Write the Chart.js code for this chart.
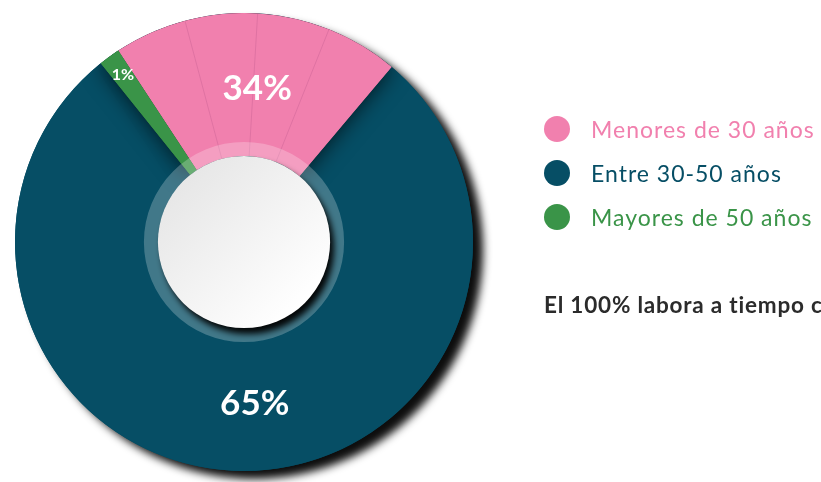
<!DOCTYPE html>
<html>
<head>
<meta charset="utf-8">
<script src="https://cdn.jsdelivr.net/npm/chart.js@4.4.1/dist/chart.umd.min.js"></script>
<style>
  html, body { margin: 0; padding: 0; background: #fff; overflow: hidden; }
  #wrap { position: relative; width: 821px; height: 482px; }
  #ageChart { position: absolute; left: 0; top: 0; }
  .legend { position: absolute; left: 544px; top: 107px; font-family: Lato, sans-serif; }
  .legend .item { display: flex; align-items: center; height: 44px; font-size: 23px; letter-spacing: 1px; }
  .legend .dot { width: 26px; height: 26px; border-radius: 50%; margin-right: 21px; }
  .note { position: absolute; left: 544px; top: 291px; white-space: nowrap; letter-spacing: 0.8px;
          font-family: Lato, sans-serif; font-weight: 700; font-size: 22.5px; color: #2b2b2b; }
</style>
</head>
<body>
<div id="wrap">
  <canvas id="ageChart" width="821" height="482"></canvas>
  <div class="legend" id="legend"></div>
  <div class="note">El 100% labora a tiempo completo</div>
</div>
<script>
const categories = ['Menores de 30 años', 'Entre 30-50 años', 'Mayores de 50 años'];
// printed percentages
const percentLabels = ['34%', '65%', '1%'];
// arc shares as drawn in the source graphic (it is not drawn to scale with the labels)
const arcShares = [20.4, 78.1, 1.5];
const sliceColors = ['#f180ae', '#064e65', '#3a9448'];

// legend on the right, coloured text like the original
const legendEl = document.getElementById('legend');
categories.forEach((name, i) => {
  const row = document.createElement('div');
  row.className = 'item';
  row.style.color = sliceColors[i];
  row.innerHTML = '<span class="dot" style="background:' + sliceColors[i] + '"></span>' + name;
  legendEl.appendChild(row);
});

// small hand nudges so the labels sit where the original put them (degrees)
const labelNudge = [1.5, -4.5, 0];

const decorPlugin = {
  id: 'decor',
  beforeDatasetsDraw(chart) {
    const arc = chart.getDatasetMeta(0).data[0];
    const { ctx } = chart;
    ctx.save();
    ctx.shadowColor = 'rgba(0, 0, 0, 0.95)';
    ctx.shadowBlur = 9;
    ctx.shadowOffsetX = 10;
    ctx.shadowOffsetY = 8;
    ctx.fillStyle = sliceColors[1];
    ctx.beginPath();
    ctx.arc(arc.x, arc.y, arc.outerRadius, 0, Math.PI * 2);
    ctx.fill();
    ctx.restore();
  },
  afterDatasetsDraw(chart) {
    const { ctx } = chart;
    const meta = chart.getDatasetMeta(0);
    const pink = meta.data[0], green = meta.data[2];
    const cx = pink.x, cy = pink.y, R = pink.outerRadius, r = pink.innerRadius;

    // the pink and green wedges throw a soft shadow on the navy part
    ctx.save();
    ctx.beginPath();
    ctx.arc(cx, cy, R, 0, Math.PI * 2);
    ctx.clip();
    ctx.shadowColor = 'rgba(0, 0, 0, 0.75)';
    ctx.shadowBlur = 22;
    green.draw(ctx);
    pink.draw(ctx);
    ctx.shadowColor = 'transparent';
    ctx.shadowBlur = 0;
    green.draw(ctx);
    ctx.restore();

    // faint dividers inside the pink wedge
    ctx.save();
    ctx.strokeStyle = 'rgba(190, 90, 140, 0.35)';
    ctx.lineWidth = 1;
    for (let k = 1; k <= 3; k++) {
      const a = pink.startAngle + (pink.endAngle - pink.startAngle) * k / 4;
      ctx.beginPath();
      ctx.moveTo(cx + Math.cos(a) * r, cy + Math.sin(a) * r);
      ctx.lineTo(cx + Math.cos(a) * R, cy + Math.sin(a) * R);
      ctx.stroke();
    }
    ctx.restore();

    // translucent ring round the hole
    const ringR = r + 14;
    ctx.save();
    ctx.fillStyle = 'rgba(255, 255, 255, 0.24)';
    ctx.beginPath();
    ctx.arc(cx, cy, ringR, 0, Math.PI * 2);
    ctx.arc(cx, cy, r, 0, Math.PI * 2, true);
    ctx.fill();
    ctx.restore();

    // white centre disc
    ctx.save();
    const grad = ctx.createLinearGradient(cx - r, cy - r, cx + r * 0.7, cy + r * 0.7);
    grad.addColorStop(0, '#e2e2e2');
    grad.addColorStop(1, '#ffffff');
    ctx.shadowColor = 'rgba(0, 0, 0, 0.95)';
    ctx.shadowBlur = 6;
    ctx.shadowOffsetX = 4;
    ctx.shadowOffsetY = 6;
    ctx.fillStyle = grad;
    ctx.beginPath();
    ctx.arc(cx, cy, r, 0, Math.PI * 2);
    ctx.fill();
    ctx.restore();

    // percentage labels
    ctx.save();
    ctx.fillStyle = '#ffffff';
    ctx.textAlign = 'center';
    ctx.textBaseline = 'middle';
    meta.data.forEach((el, i) => {
      const mid = (el.startAngle + el.endAngle) / 2 + labelNudge[i] * Math.PI / 180;
      const small = arcShares[i] < 5;
      const rad = small ? R * 0.9 : (r + R) / 2 + (i === 1 ? 5 : -4);
      ctx.font = 'bold ' + (small ? 16 : 35) + 'px Lato, sans-serif';
      ctx.fillText(percentLabels[i], cx + Math.cos(mid) * rad, cy + Math.sin(mid) * rad);
    });
    ctx.restore();
  }
};

new Chart(document.getElementById('ageChart'), {
  type: 'doughnut',
  data: {
    labels: categories,
    datasets: [{
      data: arcShares,
      backgroundColor: sliceColors,
      borderWidth: 0,
      hoverOffset: 0,
    }],
  },
  options: {
    responsive: false,
    animation: false,
    rotation: -33.3,
    cutout: '37.6%',
    layout: { padding: { left: 15, top: 13, right: 348, bottom: 11 } },
    plugins: {
      legend: { display: false },
      tooltip: { enabled: false },
    },
  },
  plugins: [decorPlugin],
});
</script>
</body>
</html>
